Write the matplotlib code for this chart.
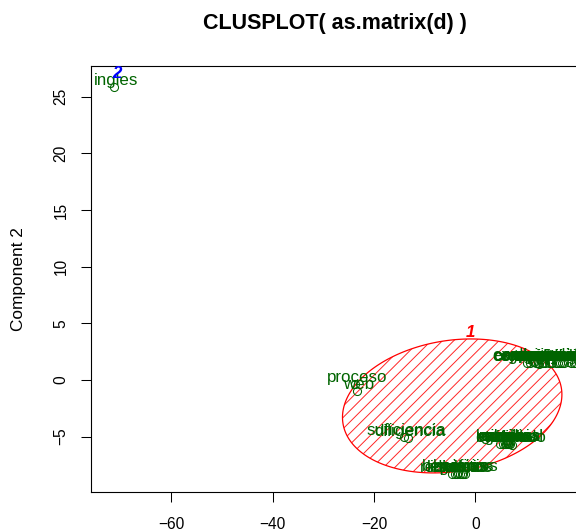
import numpy as np
import matplotlib
matplotlib.use("Agg")
import matplotlib.pyplot as plt
from matplotlib.patches import Polygon
from matplotlib.collections import LineCollection

plt.rcParams['font.family'] = ['Liberation Sans', 'DejaVu Sans']

# ---------------- data ----------------
title = "CLUSPLOT( as.matrix(d) )"
ylabel = "Component 2"
xticks = [-60, -40, -20, 0]
yticks = [-5, 0, 5, 10, 15, 20, 25]

# cluster 1 words
words_c1 = [
    # top-right group
    "conocimientos", "experiencia", "organizacion", "desarrollo", "sistemas",
    "programacion", "manejo", "gestion", "equipo", "trabajo", "analisis",
    "datos", "software", "empresa", "capacidad", "herramientas", "tecnologia",
    "soporte", "proyectos", "clientes", "calidad", "comunicacion",
    # middle-right group
    "egresado", "estudios", "bachiller", "carrera", "tecnico", "industrial",
    "similar", "afines", "grado", "titulo",
    # bottom group
    "requisitos", "beneficios", "salario", "horarios", "legales", "viajes",
    "idiomas", "turnos",
    # left group
    "proceso", "web", "suficiencia", "diligencia",
]
x_c1 = [
    13.7, 11.6, 12.6, 15.2, 16.8, 18.3, 10.8, 14.5, 12.0, 17.5, 13.1,
    19.4, 15.9, 11.3, 16.3, 18.8, 14.9, 10.3, 17.1, 12.3, 19.9, 13.4,
    6.55, 6.26, 6.06, 5.47, 6.85, 6.45, 5.86, 7.24, 4.87, 6.65,
    -4.1, -3.41, -3.02, -2.62, -4.6, -2.03, -3.61, -2.43,
    -23.74, -23.35, -14.07, -13.28,
]
y_c1 = [
    1.50, 1.55, 1.45, 1.52, 1.48, 1.55, 1.50, 1.46, 1.53, 1.50, 1.47,
    1.52, 1.49, 1.55, 1.51, 1.46, 1.50, 1.53, 1.48, 1.51, 1.50, 1.47,
    -5.65, -5.60, -5.68, -5.62, -5.66, -5.60, -5.64, -5.70, -5.63, -5.66,
    -8.30, -8.25, -8.33, -8.28, -8.31, -8.27, -8.32, -8.29,
    -0.35, -0.97, -5.03, -5.12,
]

# cluster 2 words
words_c2 = ["ingles"]
x_c2 = [-71.3]
y_c2 = [25.85]

# cluster 1 ellipse (centre and shape matrix, data units)
ell_center = [-4.56, -2.29]
ell_shape = [[468.7, 21.8], [21.8, 34.95]]

# cluster labels
clus_names = ["1", "2"]
clus_label_x = [-1.05, -70.7]
clus_label_y = [4.15, 27.09]
clus_colors = ["red", "blue"]

# ---------------- figure ----------------
fig = plt.figure(figsize=(5.76, 5.31), dpi=100)
ax = fig.add_axes([90.7 / 576, 1 - 491.7 / 531, (577 - 90.7) / 576, (491.7 - 65.7) / 531])
ax.set_xlim(-75.9, 20.07)
ax.set_ylim(-9.86, 27.74)

green = "#006400"

# ellipse outline
t = np.linspace(0, 2 * np.pi, 300)
L = np.linalg.cholesky(np.array(ell_shape))
pts = np.array(ell_center)[:, None] + L @ np.vstack([np.cos(t), np.sin(t)])
ell = Polygon(pts.T, closed=True, facecolor="none", edgecolor="red",
              linewidth=0.9, zorder=1.5)
ax.add_patch(ell)

# 45-degree shading lines (in screen space), clipped to the ellipse
fig.canvas.draw()
disp = ax.transData.transform(pts.T)
xmin, ymin = disp.min(axis=0)
xmax, ymax = disp.max(axis=0)
spacing = 11.3  # horizontal spacing in pixels
segs = []
c = (xmin - ymax) - spacing
while c < xmax - ymin + spacing:
    p_a = (ymin + c, ymin)
    p_b = (ymax + c, ymax)
    segs.append(ax.transData.inverted().transform([p_a, p_b]))
    c += spacing
lc = LineCollection(segs, colors="red", linewidths=0.7, alpha=0.85, zorder=1)
ax.add_collection(lc)
lc.set_clip_path(ell)

# points
ax.plot(x_c1 + x_c2, y_c1 + y_c2, linestyle="none", marker="o", ms=5.8,
        mfc="none", mec=green, mew=0.75, zorder=2)

# labels
for w, x, y in zip(words_c1 + words_c2, x_c1 + x_c2, y_c1 + y_c2):
    ax.annotate(w, (x, y), xytext=(1.4, 5.0), textcoords="offset points",
                ha="center", va="center", fontsize=12.2, color=green,
                zorder=3, annotation_clip=False)

for n, x, y, c in zip(clus_names, clus_label_x, clus_label_y, clus_colors):
    ax.text(x, y, n, color=c, fontsize=12.2, fontweight="bold",
            fontstyle="italic", ha="center", va="center", zorder=4)

# axes styling
ax.set_xticks(xticks)
ax.set_yticks(yticks)
for s in ax.spines.values():
    s.set_linewidth(0.8)
ax.tick_params(direction="out", length=7.2, width=0.75, labelsize=11.2)
ax.tick_params(axis="x", pad=11.0)
ax.tick_params(axis="y", pad=8.8)
for lbl in ax.get_yticklabels():
    lbl.set_rotation(90)
    lbl.set_va("center")

fig.text(335 / 576, 1 - 24 / 531, title, ha="center", va="center",
         fontsize=15.5, fontweight="bold")
fig.text(19 / 576, 1 - 279.5 / 531, ylabel, rotation=90, ha="center",
         va="center", fontsize=12.4)

fig.savefig("out.png", dpi=100)
